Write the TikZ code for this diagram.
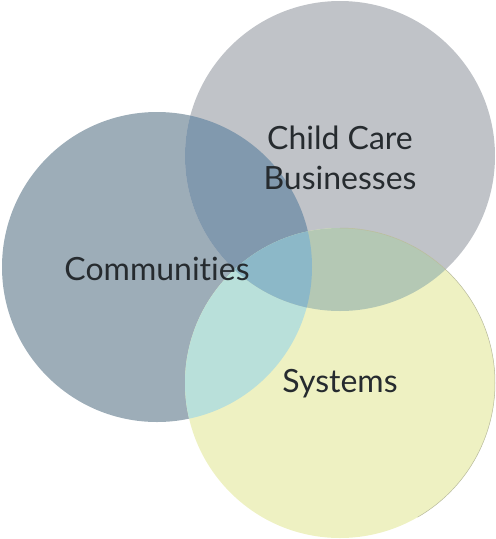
\documentclass[tikz,border=0pt]{standalone}
\usepackage{fontspec}
\setmainfont[Ligatures=NoCommon]{Lato}
\definecolor{vnComm}{HTML}{9DADB8}
\definecolor{vnCare}{HTML}{C0C3C8}
\definecolor{vnSys}{HTML}{EEF1C2}
\definecolor{vnCareComm}{HTML}{8199AE}
\definecolor{vnCommSys}{HTML}{B9E0DA}
\definecolor{vnCareSys}{HTML}{B4C8B4}
\definecolor{vnAll}{HTML}{8CB8C8}
\definecolor{vnEdge}{HTML}{B8BA9C}
\definecolor{vnText}{HTML}{262B2F}
\usetikzlibrary{positioning}

\begin{document}
\begin{tikzpicture}[x=1pt,y=-1pt,
  vnlabel/.style={text=vnText, font=\fontsize{32}{40}\selectfont, align=center, inner sep=0pt}]
  \useasboundingbox (0,0) rectangle (496,539);
  \def\commC{(157,267) circle (155)}
  \def\careC{(340,156) circle (155)}
  \def\sysC{(340,383) circle (155)}

  % circles
  \fill[vnComm] \commC;
  \fill[vnCare] \careC;
  \fill[vnSys] \sysC;

  % overlaps
  \begin{scope}\clip \commC; \fill[vnCareComm] \careC; \end{scope}
  \begin{scope}\clip \commC; \fill[vnCommSys] \sysC; \end{scope}
  \begin{scope}\clip \careC; \fill[vnCareSys] \sysC; \end{scope}
  \begin{scope}\clip \commC; \clip \careC; \fill[vnAll] \sysC; \end{scope}
  \draw[vnEdge, line width=0.5pt] (340,383) ++(-90:155) arc (-90:60:155);

  % labels
  \node[vnlabel] (care) at (340,158) {Child Care\\Businesses};
  \node[vnlabel] (comm) at (157,269) {Communities};
  \node[vnlabel] (sys) at (340,384) {Systems};
\end{tikzpicture}
\end{document}
